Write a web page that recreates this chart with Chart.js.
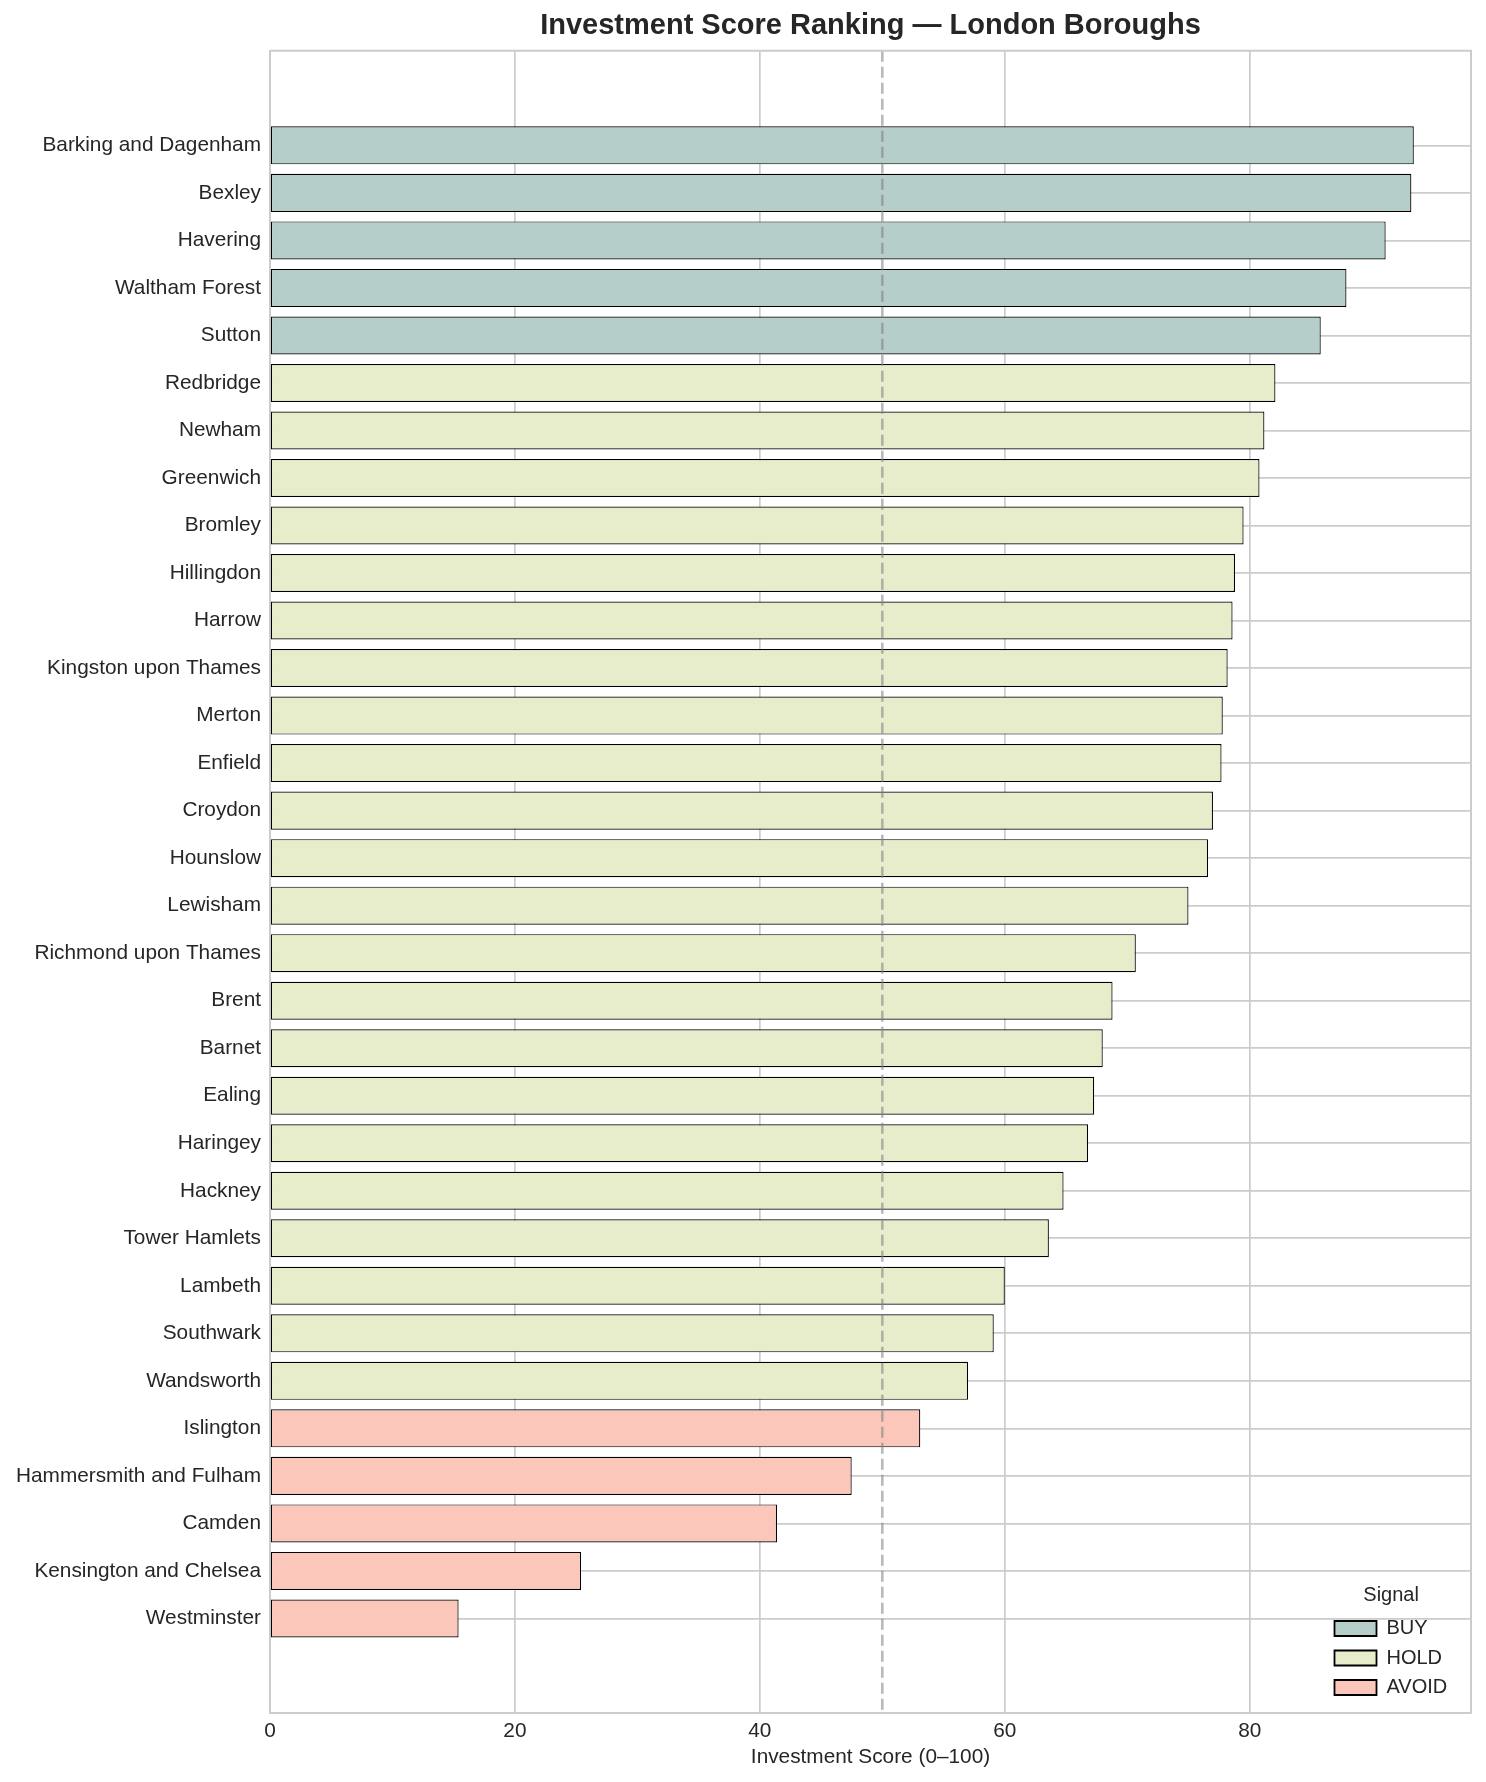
<!DOCTYPE html>
<html><head><meta charset="utf-8">
<script src="https://cdn.jsdelivr.net/npm/chart.js@4.4.1/dist/chart.umd.min.js"></script>
<style>html,body{margin:0;padding:0;background:#fff}#wrap{width:1486px;height:1782px;position:relative}</style>
</head><body><div id="wrap"><canvas id="c"></canvas></div>
<script>
const boroughs = ["Barking and Dagenham","Bexley","Havering","Waltham Forest","Sutton","Redbridge","Newham","Greenwich","Bromley","Hillingdon","Harrow","Kingston upon Thames","Merton","Enfield","Croydon","Hounslow","Lewisham","Richmond upon Thames","Brent","Barnet","Ealing","Haringey","Hackney","Tower Hamlets","Lambeth","Southwark","Wandsworth","Islington","Hammersmith and Fulham","Camden","Kensington and Chelsea","Westminster"];
const scores = [93.4,93.2,91.1,87.9,85.8,82.1,81.2,80.8,79.5,78.8,78.6,78.2,77.8,77.7,77.0,76.6,75.0,70.7,68.8,68.0,67.3,66.8,64.8,63.6,60.0,59.1,57.0,53.1,47.5,41.4,25.4,15.4];
const signals = ["BUY","BUY","BUY","BUY","BUY","HOLD","HOLD","HOLD","HOLD","HOLD","HOLD","HOLD","HOLD","HOLD","HOLD","HOLD","HOLD","HOLD","HOLD","HOLD","HOLD","HOLD","HOLD","HOLD","HOLD","HOLD","HOLD","AVOID","AVOID","AVOID","AVOID","AVOID"];
const signalOrder = ["BUY","HOLD","AVOID"];
const signalColors = {BUY:"#b5cec9", HOLD:"#e7ecca", AVOID:"#fcc7bb"};
const threshold = 50;
const xTicks = [0,20,40,60,80];
const xMax = 98.07;
const yMin = -1.99, yMax = 32.99;

const TXT = "#262626", GRID = "#cccccc";
Chart.defaults.font.family = '"Liberation Sans", Arial, Helvetica, sans-serif';
Chart.defaults.color = TXT;

const datasets = signalOrder.map(sig => ({
  label: sig,
  data: boroughs.map((b, i) => ({x: scores[i], y: i, s: signals[i]})).filter(p => p.s === sig),
  backgroundColor: signalColors[sig],
  borderColor: "#000000",
  borderWidth: 1.2,
  borderSkipped: false,
  grouped: false,
  barPercentage: 0.8,
  categoryPercentage: 1.0
}));

const extras = {
  id: "extras",
  afterLayout(chart) {
    const lg = chart.legend, ca = chart.chartArea;
    if (!lg) return;
    const w = lg.width, h = lg.height;
    lg.left = ca.right - 146; lg.top = ca.bottom - 128;
    lg.right = lg.left + w; lg.bottom = lg.top + h;
  },
  afterDatasetsDraw(chart) {
    const {ctx, chartArea: ca, scales: {x}} = chart;
    const px = x.getPixelForValue(threshold);
    ctx.save();
    ctx.strokeStyle = "rgba(128,128,128,0.55)";
    ctx.lineWidth = 2.6;
    ctx.setLineDash([11, 5]);
    ctx.beginPath(); ctx.moveTo(px, ca.top); ctx.lineTo(px, ca.bottom); ctx.stroke();
    ctx.restore();
  },
  afterDraw(chart) {
    const {ctx, chartArea: ca} = chart;
    ctx.save();
    ctx.strokeStyle = GRID; ctx.lineWidth = 2;
    ctx.beginPath();
    ctx.moveTo(ca.left, ca.top); ctx.lineTo(ca.right, ca.top); ctx.lineTo(ca.right, ca.bottom);
    ctx.stroke();
    ctx.restore();
  }
};

new Chart(document.getElementById("c"), {
  type: "bar",
  data: {datasets},
  plugins: [extras],
  options: {
    indexAxis: "y",
    responsive: true,
    maintainAspectRatio: false,
    animation: false,
    devicePixelRatio: 1,
    layout: {padding: {left: 0, right: 15, top: 0, bottom: 0}},
    plugins: {
      tooltip: {enabled: false},
      title: {
        display: true,
        text: "Investment Score Ranking \u2014 London Boroughs",
        fullSize: false,
        color: TXT,
        font: {size: 29, weight: "bold"},
        padding: {top: 9, bottom: 7}
      },
      legend: {
        display: true,
        position: "chartArea",
        fullSize: false,
        align: "start",
        labels: {
          boxWidth: 42, boxHeight: 15, padding: 9.5, color: TXT,
          font: {size: 20},
          generateLabels(chart) {
            const items = Chart.defaults.plugins.legend.labels.generateLabels(chart);
            items.forEach(it => { it.lineWidth = 1.8; });
            return items;
          }
        },
        title: {display: true, text: "Signal", color: TXT, font: {size: 20}, padding: {top: 0, bottom: 0}}
      }
    },
    scales: {
      x: {
        type: "linear",
        position: "bottom",
        min: 0, max: xMax,
        offset: false,
        afterBuildTicks(scale) { scale.ticks = xTicks.map(v => ({value: v})); },
        afterFit(scale) { scale.height = 69; },
        grid: {color: GRID, lineWidth: 1.7, drawTicks: false, offset: false},
        border: {display: true, color: GRID, width: 2},
        ticks: {color: TXT, font: {size: 20.8}, padding: 6},
        title: {display: true, text: "Investment Score (0\u2013100)", color: TXT, font: {size: 20.8}, padding: {top: 4, bottom: 12}}
      },
      y: {
        type: "linear",
        position: "left",
        reverse: true,
        offset: false,
        min: yMin, max: yMax,
        afterBuildTicks(scale) { scale.ticks = boroughs.map((b, i) => ({value: i})); },
        afterFit(scale) { scale.width = 270; },
        grid: {color: GRID, lineWidth: 1.7, drawTicks: false, offset: false},
        border: {display: true, color: GRID, width: 2},
        ticks: {color: TXT, font: {size: 20.8}, padding: 9, autoSkip: false,
          callback: (v) => boroughs[v] !== undefined ? boroughs[v] : ""}
      }
    }
  }
});
</script>
</body></html>
